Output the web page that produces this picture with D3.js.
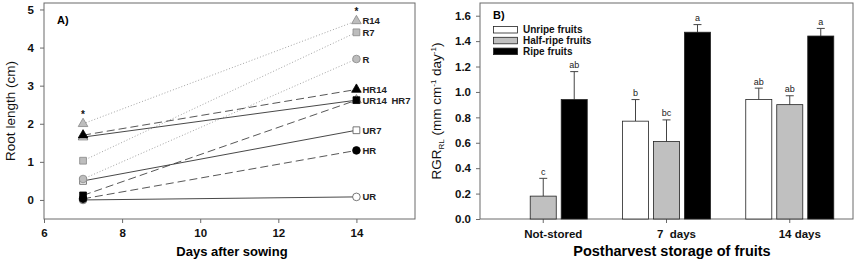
<!DOCTYPE html>
<html>
<head>
<meta charset="utf-8">
<script src="https://cdn.jsdelivr.net/npm/d3@7"></script>
<style>
  body { margin: 0; background: #fff; }
  svg { display: block; font-family: "Liberation Sans", Arial, sans-serif; }
</style>
</head>
<body>
<div id="chart"></div>
<script>
// ---- Panel A data ----
const days = [7, 14];
const lineNames = ["R14", "R7", "R", "HR14", "HR7", "UR14", "HR", "UR7", "UR"];
const day7Length = [2.0, 1.03, 0.55, 1.7, 0.12, 1.65, 0.03, 0.5, 0.0];
const day14Length = [4.7, 4.4, 3.7, 2.9, 2.62, 2.62, 1.3, 1.83, 0.08];
const xTicksA = [6, 8, 10, 12, 14];
const yTicksA = [0, 1, 2, 3, 4, 5];

// ---- Panel B data ----
const storage = ["Not-stored", "7  days", "14 days"];
const fruitTypes = ["Unripe fruits", "Half-ripe fruits", "Ripe fruits"];
const unripeRGR = [null, 0.77, 0.94];
const unripeErr = [null, 0.17, 0.09];
const halfRGR = [0.18, 0.61, 0.90];
const halfErr = [0.14, 0.17, 0.07];
const ripeRGR = [0.94, 1.47, 1.44];
const ripeErr = [0.22, 0.06, 0.06];
const unripeLetters = ["", "b", "ab"];
const halfLetters = ["c", "bc", "ab"];
const ripeLetters = ["ab", "a", "a"];
const yTicksB = [0, 0.2, 0.4, 0.6, 0.8, 1.0, 1.2, 1.4, 1.6];

const W = 858, H = 261;
const svg = d3.select("#chart").append("svg").attr("width", W).attr("height", H);
const frameColor = "#6a6a6a";

// styles for panel A series
const GRAY = "#bdbdbd";
const lineStyle = {
  R14:  { shape: d3.symbolTriangle, fill: GRAY, stroke: "#888", dash: "1,2", line: "#999" },
  R7:   { shape: d3.symbolSquare, fill: GRAY, stroke: "#888", dash: "1,2", line: "#999" },
  R:    { shape: d3.symbolCircle, fill: GRAY, stroke: "#888", dash: "1,2", line: "#999" },
  HR14: { shape: d3.symbolTriangle, fill: "#000", stroke: "#000", dash: "8,4", line: "#444" },
  UR14: { shape: d3.symbolTriangle, fill: "#fff", stroke: "#666", dash: null, line: "#333" },
  HR7:  { shape: d3.symbolSquare, fill: "#000", stroke: "#000", dash: "8,4", line: "#444", dx: 35 },
  HR:   { shape: d3.symbolCircle, fill: "#000", stroke: "#000", dash: "8,4", line: "#444" },
  UR7:  { shape: d3.symbolSquare, fill: "#fff", stroke: "#555", dash: null, line: "#333" },
  UR:   { shape: d3.symbolCircle, fill: "#fff", stroke: "#555", dash: null, line: "#333" }
};

// ================= Panel A =================
const xA = d3.scaleLinear().domain([6, 15.5]).range([44, 415]);
const yA = d3.scaleLinear().domain([-0.5, 5.17]).range([219, 3]);

const gA = svg.append("g");
gA.append("rect").attr("x", 44).attr("y", 3).attr("width", 371).attr("height", 216)
  .attr("fill", "none").attr("stroke", frameColor);

const axA = gA.append("g").attr("transform", "translate(0,219)")
  .call(d3.axisBottom(xA).tickValues(xTicksA).tickSize(4).tickPadding(6).tickFormat(d3.format("d")));
const ayA = gA.append("g").attr("transform", "translate(44,0)")
  .call(d3.axisLeft(yA).tickValues(yTicksA).tickSize(4).tickPadding(6).tickFormat(d3.format("d")));
[axA, ayA].forEach(a => {
  a.select(".domain").remove();
  a.selectAll("line").attr("stroke", frameColor);
  a.selectAll("text").attr("font-size", 11.5).attr("font-weight", "bold").attr("fill", "#111")
    .attr("font-family", "Liberation Sans, Arial, sans-serif");
});

const seriesA = lineNames.map((name, i) => ({ name, values: [day7Length[i], day14Length[i]] }));

// lines
gA.selectAll(".ln").data(seriesA).join("line")
  .attr("x1", xA(days[0])).attr("x2", xA(days[1]))
  .attr("y1", d => yA(d.values[0])).attr("y2", d => yA(d.values[1]))
  .attr("stroke", d => lineStyle[d.name].line)
  .attr("stroke-width", 0.9)
  .attr("stroke-dasharray", d => lineStyle[d.name].dash);

// markers (draw in reverse so top series sit on top)
const markerData = [];
seriesA.slice().reverse().forEach(s => {
  s.values.forEach((v, j) => markerData.push({ name: s.name, day: days[j], v }));
});
gA.selectAll(".mk").data(markerData).join("path")
  .attr("transform", d => `translate(${xA(d.day)},${yA(d.v)})`)
  .attr("d", d => d3.symbol().type(lineStyle[d.name].shape).size(lineStyle[d.name].shape === d3.symbolTriangle ? 40 : 46)())
  .attr("fill", d => lineStyle[d.name].fill)
  .attr("stroke", d => lineStyle[d.name].stroke)
  .attr("stroke-width", 0.8);

// labels at day 14
gA.selectAll(".lb").data(seriesA).join("text")
  .attr("x", d => xA(14) + (lineStyle[d.name].dx || 6))
  .attr("y", d => yA(d.values[1]) + 3.5)
  .attr("font-size", 9.5).attr("font-weight", "bold").attr("fill", "#222")
  .text(d => d.name);

// asterisks
gA.append("text").attr("x", xA(7)).attr("y", yA(2.0) - 6).attr("text-anchor", "middle")
  .attr("font-size", 10).attr("font-weight", "bold").attr("fill", "#111").text("*");
gA.append("text").attr("x", xA(14)).attr("y", yA(4.7) - 6).attr("text-anchor", "middle")
  .attr("font-size", 10).attr("font-weight", "bold").attr("fill", "#111").text("*");

gA.append("text").attr("x", 57).attr("y", 24).attr("font-size", 11).attr("font-weight", "bold").text("A)");

gA.append("text").attr("x", 232).attr("y", 256).attr("text-anchor", "middle")
  .attr("font-size", 13).attr("font-weight", "bold").text("Days after sowing");
gA.append("text").attr("transform", "translate(15,111) rotate(-90)").attr("text-anchor", "middle")
  .attr("font-size", 13.5).attr("fill", "#111").text("Root length (cm)");

// ================= Panel B =================
const gB = svg.append("g");
const bLeft = 480, bRight = 853, bTop = 3, bBottom = 219;
const yB = d3.scaleLinear().domain([0, 1.7]).range([bBottom, bTop]);
const x0 = d3.scaleBand().domain(storage).range([bLeft, bRight]).paddingInner(0.286).paddingOuter(0.156);
const x1 = d3.scaleBand().domain(fruitTypes).range([0, x0.bandwidth()]).paddingInner(0.16);
const barFill = { "Unripe fruits": "#fff", "Half-ripe fruits": "#c0c0c0", "Ripe fruits": "#000" };

gB.append("rect").attr("x", bLeft).attr("y", bTop).attr("width", bRight - bLeft).attr("height", bBottom - bTop)
  .attr("fill", "none").attr("stroke", frameColor);

const ayB = gB.append("g").attr("transform", `translate(${bLeft},0)`)
  .call(d3.axisLeft(yB).tickValues(yTicksB).tickSize(4).tickPadding(5).tickFormat(d3.format(".1f")));
const axB = gB.append("g").attr("transform", `translate(0,${bBottom})`)
  .call(d3.axisBottom(x0).tickSize(4).tickPadding(7));
[axB, ayB].forEach(a => {
  a.select(".domain").remove();
  a.selectAll("line").attr("stroke", frameColor);
  a.selectAll("text").attr("font-size", 11.5).attr("font-weight", "bold").attr("fill", "#111")
    .attr("font-family", "Liberation Sans, Arial, sans-serif");
});
axB.selectAll("text").attr("dx", 10).style("white-space", "pre");

const barRows = [
  { type: fruitTypes[0], vals: unripeRGR, errs: unripeErr, letters: unripeLetters },
  { type: fruitTypes[1], vals: halfRGR, errs: halfErr, letters: halfLetters },
  { type: fruitTypes[2], vals: ripeRGR, errs: ripeErr, letters: ripeLetters }
];
const bars = [];
barRows.forEach(r => storage.forEach((s, i) => {
  if (r.vals[i] != null) bars.push({ type: r.type, group: s, v: r.vals[i], e: r.errs[i], letter: r.letters[i] });
}));

const bx = d => x0(d.group) + x1(d.type);
const bcx = d => bx(d) + x1.bandwidth() / 2;

// error bars (drawn behind bars)
gB.selectAll(".eb").data(bars).join("line")
  .attr("x1", bcx).attr("x2", bcx)
  .attr("y1", d => yB(d.v)).attr("y2", d => yB(d.v + d.e))
  .attr("stroke", "#444").attr("stroke-width", 1);
gB.selectAll(".cap").data(bars).join("line")
  .attr("x1", d => bcx(d) - 4).attr("x2", d => bcx(d) + 4)
  .attr("y1", d => yB(d.v + d.e)).attr("y2", d => yB(d.v + d.e))
  .attr("stroke", "#444").attr("stroke-width", 1);

gB.selectAll(".bar").data(bars).join("rect")
  .attr("x", bx).attr("width", x1.bandwidth())
  .attr("y", d => yB(d.v)).attr("height", d => yB(0) - yB(d.v))
  .attr("fill", d => barFill[d.type]).attr("stroke", "#222").attr("stroke-width", 0.8);

gB.selectAll(".let").data(bars).join("text")
  .attr("x", bcx).attr("y", d => yB(d.v + d.e) - 3.5).attr("text-anchor", "middle")
  .attr("font-size", 9).attr("fill", "#222").text(d => d.letter);

// legend
const leg = gB.append("g");
fruitTypes.forEach((t, i) => {
  const yy = 26.5 + i * 10.8;
  leg.append("rect").attr("x", 493.5).attr("y", yy).attr("width", 24).attr("height", 6.5)
    .attr("fill", barFill[t]).attr("stroke", "#222").attr("stroke-width", 0.8);
  leg.append("text").attr("x", 523).attr("y", yy + 6.5).attr("font-size", 10).attr("font-weight", "bold")
    .attr("fill", "#111").text(t);
});

gB.append("text").attr("x", 493).attr("y", 19).attr("font-size", 11).attr("font-weight", "bold").text("B)");

gB.append("text").attr("x", 672).attr("y", 256).attr("text-anchor", "middle")
  .attr("font-size", 14.5).attr("font-weight", "bold").text("Postharvest storage of fruits");

const yt = gB.append("text").attr("transform", "translate(441,111) rotate(-90)").attr("text-anchor", "middle")
  .attr("font-size", 13.5).attr("fill", "#111");
yt.append("tspan").text("RGR");
yt.append("tspan").attr("font-size", 8).attr("dy", 3).text("RL");
yt.append("tspan").attr("dy", -3).text(" (mm cm");
yt.append("tspan").attr("font-size", 8).attr("dy", -5).text("-1");
yt.append("tspan").attr("dy", 5).text(" day");
yt.append("tspan").attr("font-size", 8).attr("dy", -5).text("-1");
yt.append("tspan").attr("dy", 5).text(")");
</script>
</body>
</html>
